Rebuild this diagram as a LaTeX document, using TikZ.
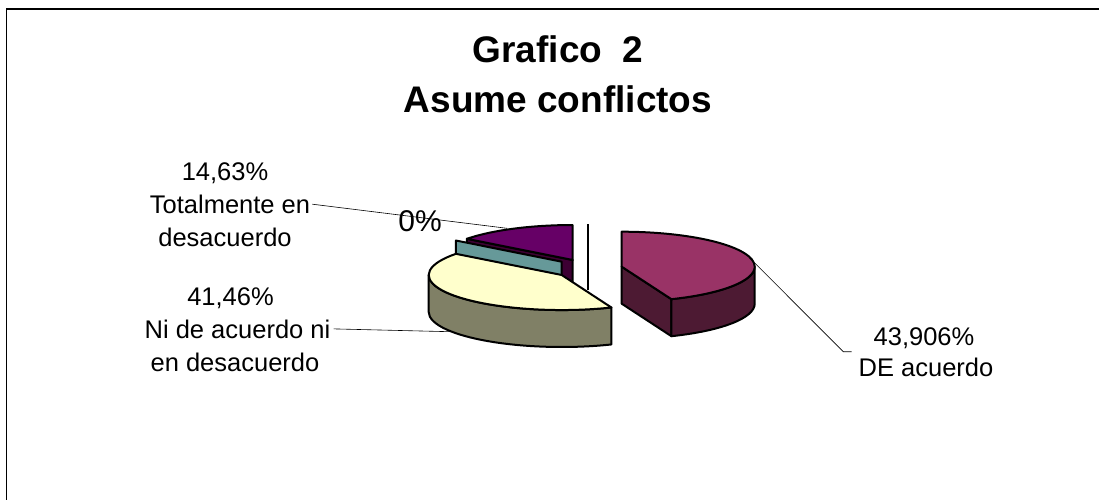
\documentclass[tikz,border=0pt]{standalone}
\usepackage{fontspec}
\setmainfont{Liberation Sans}
\usepackage{xcolor}
\usepackage{tikz}

\definecolor{plumtop}{HTML}{993366}
\definecolor{plumside}{HTML}{4D1A33}
\definecolor{creamtop}{HTML}{FFFFCC}
\definecolor{creamside}{HTML}{808066}
\definecolor{tealface}{HTML}{669999}
\definecolor{purpletop}{HTML}{660066}
\definecolor{purpleside}{HTML}{3D0033}

\begin{document}
\begin{tikzpicture}[x=1pt,y=1pt,yscale=-1,xscale=1,
  pieline/.style={line width=2pt,line join=round},
  leader/.style={line width=0.6pt},
  lbl/.style={inner sep=0pt,anchor=base,font=\fontsize{25.5}{30}\selectfont},
  ttl/.style={inner sep=0pt,anchor=base,font=\fontsize{37}{44}\selectfont\bfseries}]

\useasboundingbox (0,0) rectangle (1099,500);

\draw [line width=1.5pt]   (6.5,500) -- (6.5,9) -- (1099,9) ;

\node [ttl] (title1) at (558,63) {Grafico\ \ 2};
\node [ttl] (title2) at (558,113) {Asume conflictos};

\draw [pieline,fill=purpleside]   (572.7,260) -- (466.9,238.8) -- (466.9,275.8) -- (572.7,297) -- cycle ;

\draw [pieline,fill=purpletop]   (572.7,260) -- (466.9,238.8) arc [start angle=217.32,end angle=270,x radius=133,y radius=35] -- cycle ;

\draw [pieline,fill=tealface]   (561.7,261.7) -- (455.9,240.5) -- (455.9,277.5) -- (561.7,298.7) -- cycle ;

\draw [pieline,fill=creamside]   (611.4,307.5) arc [start angle=68.06,end angle=180,x radius=133,y radius=35] -- (428.7,312) arc [start angle=180,end angle=68.06,x radius=133,y radius=35] -- cycle ;

\draw [pieline,fill=creamtop]   (561.7,275) -- (611.4,307.5) arc [start angle=68.06,end angle=217.32,x radius=133,y radius=35] -- cycle ;

\draw [line width=2pt]   (587.7,224) -- (587.7,290) ;

\draw [pieline,fill=plumside]   (621.7,266.7) -- (671.4,299.2) -- (671.4,336.2) -- (621.7,303.7) -- cycle ;

\draw [pieline,fill=plumside]   (754.7,266.7) arc [start angle=0,end angle=68.06,x radius=133,y radius=35] -- (671.4,336.2) arc [start angle=68.06,end angle=0,x radius=133,y radius=35] -- cycle ;

\draw [pieline,fill=plumtop]   (621.7,266.7) -- (621.7,231.7) arc [start angle=-90,end angle=68.06,x radius=133,y radius=35] -- cycle ;

\node [lbl] (tot1) at (225,180) {14,63\%};
\node [lbl] (tot2) at (230,213.3) {Totalmente en};
\node [lbl] (tot3) at (225,246) {desacuerdo};

\node [lbl] (ni1) at (230.5,305.7) {41,46\%};
\node [lbl] (ni2) at (237.5,338) {Ni de acuerdo ni};
\node [lbl] (ni3) at (235,371) {en desacuerdo};

\node [lbl] (de1) at (924,345) {43,906\%};
\node [lbl] (de2) at (926,376) {DE acuerdo};

\node [inner sep=0pt,anchor=base,font=\fontsize{30}{36}\selectfont] (zero) at (420,231.7) {0\%};

\coordinate (totend) at (507,228.3);
\coordinate (niend) at (450,331.7);
\coordinate (destart) at (755,263.3);
\coordinate (deknee) at (843.3,351.7);
\coordinate (detip) at (851.7,351.7);

\draw [leader]   ([xshift=2pt]tot2.east) -- (totend) ;

\draw [leader]   ([xshift=3pt]ni2.east) -- (niend) ;

\draw [leader]   (destart) -- (deknee) -- (detip) ;

\end{tikzpicture}
\end{document}
